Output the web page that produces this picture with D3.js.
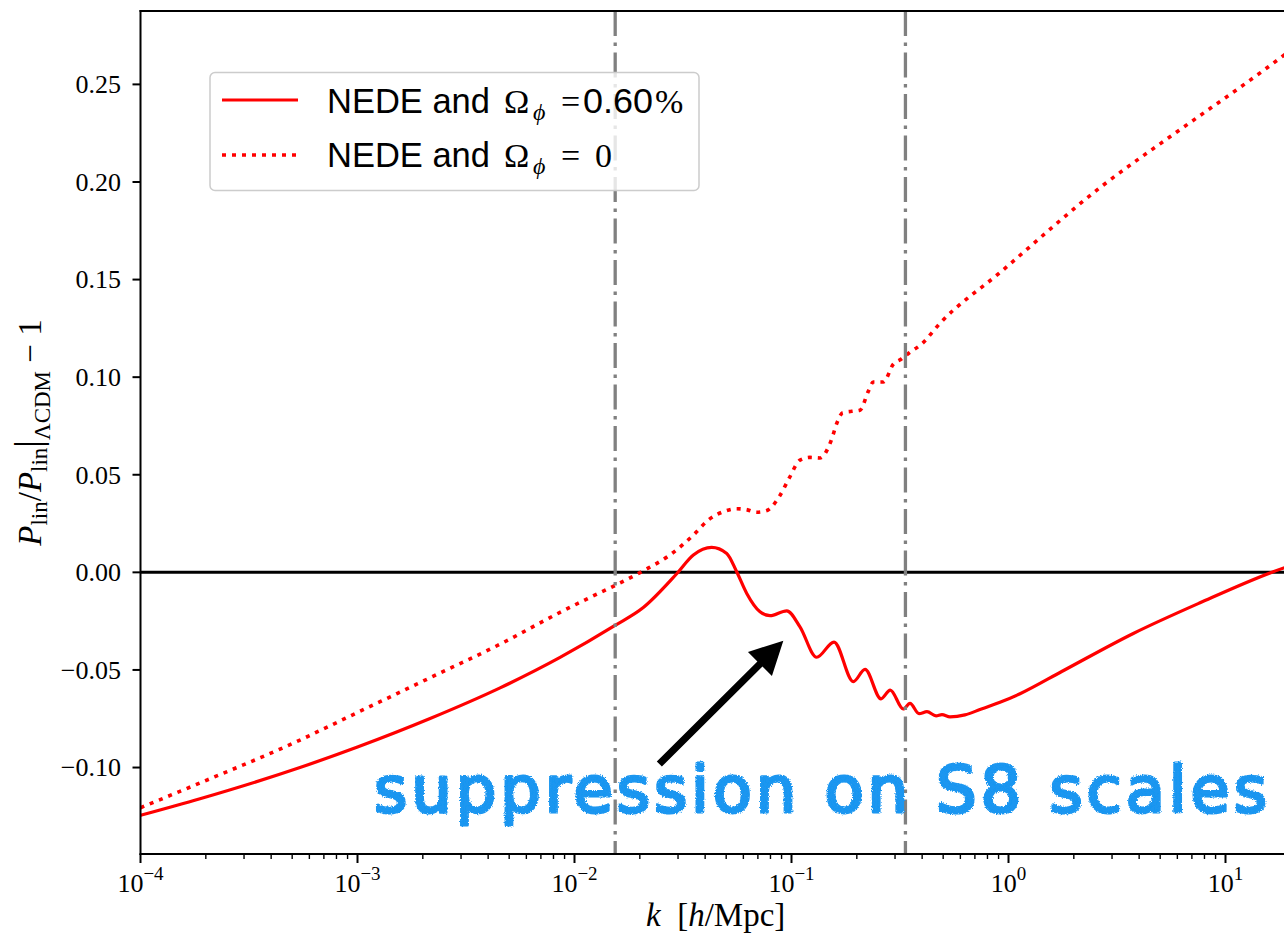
<!DOCTYPE html>
<html><head><meta charset="utf-8">
<script src="https://cdn.jsdelivr.net/npm/d3@7"></script>
<style>html,body{margin:0;padding:0;background:#fff;overflow:hidden}</style>
</head><body><svg id="c" width="1284" height="934"></svg>
<script>
// ---------- data ----------
const kSolid = [1e-4, 1.88e-4, 5.43e-4, 1.0e-3, 2.16e-3, 4.54e-3, 8.58e-3, 0.01537, 0.02075, 0.02958, 0.0353, 0.04287, 0.0503, 0.0559, 0.0622, 0.0716, 0.0796, 0.0951, 0.1094, 0.1306, 0.157, 0.1927, 0.2182, 0.2585, 0.2852, 0.3274, 0.3516, 0.387, 0.4211, 0.4634, 0.4937, 0.5375, 0.630, 0.739, 0.9137, 1.13, 1.759, 3.759, 7.63, 16.6, 20];
const pSolid = [-0.1245, -0.1160, -0.1000, -0.0895, -0.0749, -0.0592, -0.0436, -0.0272, -0.0180, -0.0007, 0.0089, 0.0128, 0.0097, 0.0003, -0.0108, -0.0202, -0.0222, -0.0197, -0.0279, -0.0435, -0.0357, -0.0560, -0.0497, -0.0648, -0.0603, -0.0700, -0.0671, -0.0724, -0.0714, -0.0735, -0.0729, -0.0740, -0.0730, -0.0703, -0.0666, -0.0622, -0.0508, -0.0313, -0.0156, 0.0003, 0.0035];
const kDotted = [1e-4, 1.88e-4, 5.04e-4, 1.0e-3, 2.16e-3, 4.54e-3, 8.58e-3, 0.01138, 0.01537, 0.02075, 0.02754, 0.0353, 0.04136, 0.04974, 0.0556, 0.0617, 0.0691, 0.0763, 0.0885, 0.0977, 0.1094, 0.1217, 0.1353, 0.1516, 0.1626, 0.1721, 0.1894, 0.2068, 0.2259, 0.2382, 0.2649, 0.2944, 0.322, 0.349, 0.398, 0.4833, 0.9137, 2.689, 5.96, 14.69, 20];
const pDotted = [-0.1206, -0.1079, -0.0876, -0.0718, -0.0540, -0.0368, -0.0205, -0.0137, -0.0067, 0.0008, 0.0089, 0.0191, 0.0268, 0.0315, 0.0326, 0.0322, 0.0308, 0.0315, 0.0394, 0.0484, 0.0575, 0.0589, 0.0586, 0.0669, 0.0770, 0.0818, 0.0825, 0.0831, 0.0927, 0.0975, 0.0975, 0.1066, 0.1094, 0.1125, 0.1170, 0.1276, 0.1536, 0.1978, 0.2256, 0.2565, 0.2676];
const vlineK = [0.0154, 0.335];
const xTickExp = [-4, -3, -2, -1, 0, 1];
const yTicks = [-0.10, -0.05, 0.00, 0.05, 0.10, 0.15, 0.20, 0.25];
const legendValues = ["0.60", "0"];
const annotationText = "suppression on S8 scales";
const arrowTail = [0.0246, -0.0982];
const arrowTip = [0.0917, -0.035];
const kDomain = [1e-4, 20];
const yDomain = [-0.1443, 0.2876];

// ---------- layout ----------
const svg = d3.select("#c");
const L = 140.5, T = 11, B = 854;
const R = L + 217 * Math.log10(kDomain[1] / kDomain[0]);
const x = d3.scaleLog().domain(kDomain).range([L, R]);
const y = d3.scaleLinear().domain(yDomain).range([B, T]);
const serif = "'Liberation Serif', 'DejaVu Serif', serif";
const sans = "'Liberation Sans', Arial, sans-serif";

const defs = svg.append("defs");
defs.append("clipPath").attr("id", "plot").append("rect")
  .attr("x", L).attr("y", T).attr("width", R - L).attr("height", B - T);
const f = defs.append("filter").attr("id", "rough").attr("x", "-5%").attr("y", "-20%").attr("width", "110%").attr("height", "140%");
f.append("feTurbulence").attr("type", "fractalNoise").attr("baseFrequency", 0.8).attr("numOctaves", 2).attr("seed", 3).attr("result", "n");
f.append("feDisplacementMap").attr("in", "SourceGraphic").attr("in2", "n").attr("scale", 3.5).attr("xChannelSelector", "R").attr("yChannelSelector", "G");

const plot = svg.append("g").attr("clip-path", "url(#plot)");

// zero line
plot.append("line").attr("x1", L).attr("x2", R).attr("y1", y(0)).attr("y2", y(0))
  .attr("stroke", "#000").attr("stroke-width", 3);

const line = d3.line().x(d => x(d[0])).y(d => y(d[1])).curve(d3.curveMonotoneX);
plot.append("path").datum(d3.zip(kDotted, pDotted)).attr("d", line)
  .attr("fill", "none").attr("stroke", "#ff0000").attr("stroke-width", 3.6)
  .attr("stroke-dasharray", "4 6");
plot.append("path").datum(d3.zip(kSolid, pSolid)).attr("d", line)
  .attr("fill", "none").attr("stroke", "#ff0000").attr("stroke-width", 3.2);

// vertical dash-dot lines
plot.selectAll("line.v").data(vlineK).join("line").attr("class", "v")
  .attr("x1", d => x(d)).attr("x2", d => x(d)).attr("y1", T).attr("y2", B)
  .attr("stroke", "#808080").attr("stroke-width", 3.3)
  .attr("stroke-dasharray", "25 6.5 3.5 6.5");

// arrow
(function () {
  const x0 = x(arrowTail[0]), y0 = y(arrowTail[1]);
  const x1 = x(arrowTip[0]), y1 = y(arrowTip[1]);
  const dx = x1 - x0, dy = y1 - y0, len = Math.hypot(dx, dy);
  const ux = dx / len, uy = dy / len, nx = -uy, ny = ux;
  const hl = 33, hw = 17, sw = 3.6;
  const bx = x1 - ux * hl, by = y1 - uy * hl;
  const pts = [
    [x0 + nx * sw, y0 + ny * sw], [bx + nx * sw, by + ny * sw], [bx + nx * hw, by + ny * hw],
    [x1, y1], [bx - nx * hw, by - ny * hw], [bx - nx * sw, by - ny * sw], [x0 - nx * sw, y0 - ny * sw]
  ];
  plot.append("path").attr("d", "M" + pts.map(p => p.join(",")).join("L") + "Z").attr("fill", "#000");
})();

// annotation text
svg.append("text").attr("x", 374).attr("y", 812)
  .attr("textLength", 893).attr("lengthAdjust", "spacing")
  .style("font-family", "'DejaVu Sans', sans-serif").style("font-size", "64px")
  .attr("fill", "#1a96f0").attr("stroke", "#1a96f0").attr("stroke-width", 3)
  .attr("stroke-linejoin", "round")
  .attr("filter", "url(#rough)")
  .text(annotationText);

// spines
const sp = svg.append("g").attr("stroke", "#000").attr("stroke-width", 2).attr("fill", "none");
sp.append("line").attr("x1", L).attr("x2", L).attr("y1", T - 1).attr("y2", B + 1);
sp.append("line").attr("x1", L - 1).attr("x2", R + 1).attr("y1", B).attr("y2", B);
sp.append("line").attr("x1", L - 1).attr("x2", R + 1).attr("y1", T).attr("y2", T);
sp.append("line").attr("x1", R).attr("x2", R).attr("y1", T - 1).attr("y2", B + 1);

// y ticks
const yt = svg.append("g");
yt.selectAll("line").data(yTicks).join("line")
  .attr("x1", L - 8).attr("x2", L).attr("y1", d => y(d)).attr("y2", d => y(d))
  .attr("stroke", "#000").attr("stroke-width", 2);
const fmt = d3.format(".2f");
yt.selectAll("text").data(yTicks).join("text")
  .attr("x", 121).attr("y", d => y(d)).attr("dy", "0.34em").attr("text-anchor", "end")
  .style("font-family", serif).style("font-size", "26px").text(d => fmt(d));

// x ticks
const xt = svg.append("g");
const minor = [];
for (let e = -4; e <= 1; e++) for (let m = 2; m <= 9; m++) { const v = m * Math.pow(10, e); if (v <= kDomain[1]) minor.push(v); }
xt.selectAll("line.mi").data(minor).join("line").attr("class", "mi")
  .attr("x1", d => x(d)).attr("x2", d => x(d)).attr("y1", B).attr("y2", B + 5)
  .attr("stroke", "#000").attr("stroke-width", 1.4);
xt.selectAll("line.ma").data(xTickExp).join("line").attr("class", "ma")
  .attr("x1", d => x(Math.pow(10, d))).attr("x2", d => x(Math.pow(10, d))).attr("y1", B).attr("y2", B + 9)
  .attr("stroke", "#000").attr("stroke-width", 2);
xt.selectAll("text").data(xTickExp).join("text")
  .attr("x", d => x(Math.pow(10, d))).attr("y", 892).attr("text-anchor", "middle")
  .style("font-family", serif).style("font-size", "26px")
  .each(function (d) {
    const t = d3.select(this);
    t.append("tspan").text("10");
    t.append("tspan").attr("dy", -12).style("font-size", "19px").text(d < 0 ? "\u2212" + (-d) : String(d));
  });

// axis labels
const xl = svg.append("text").attr("x", (L + R) / 2).attr("y", 926).attr("text-anchor", "middle")
  .style("font-family", serif).style("font-size", "33px").attr("xml:space", "preserve");
xl.append("tspan").style("font-style", "italic").text("k");
xl.append("tspan").text("\u2002[");
xl.append("tspan").style("font-style", "italic").text("h");
xl.append("tspan").text("/Mpc]");

const yl = svg.append("text").attr("transform", `translate(41,${(T + B) / 2}) rotate(-90)`)
  .attr("text-anchor", "middle").style("font-family", serif).style("font-size", "33px")
  .attr("xml:space", "preserve");
yl.append("tspan").style("font-style", "italic").text("P");
yl.append("tspan").attr("dy", 6).style("font-size", "23px").text("lin");
yl.append("tspan").attr("dy", -6).text("/");
yl.append("tspan").style("font-style", "italic").text("P");
yl.append("tspan").attr("dy", 6).style("font-size", "23px").text("lin");
yl.append("tspan").attr("dy", -6).style("font-size", "38px").text("|");
yl.append("tspan").attr("dy", 9).style("font-size", "23px").text("\u039BCDM");
yl.append("tspan").attr("dy", -9).text(" \u2212 1");

// legend
const lg = svg.append("g");
lg.append("rect").attr("x", 210).attr("y", 72.5).attr("width", 489).attr("height", 118).attr("rx", 5)
  .attr("fill", "rgba(255,255,255,0.8)").attr("stroke", "#cccccc").attr("stroke-width", 1.5);
lg.append("line").attr("x1", 222).attr("x2", 298).attr("y1", 100).attr("y2", 100)
  .attr("stroke", "#ff0000").attr("stroke-width", 3.2);
lg.append("line").attr("x1", 222).attr("x2", 298).attr("y1", 155).attr("y2", 155)
  .attr("stroke", "#ff0000").attr("stroke-width", 3.6).attr("stroke-dasharray", "4 6");
const rows = [112.7, 167.3];
rows.forEach((by, i) => {
  const g = lg.append("g");
  g.append("text").attr("x", 327).attr("y", by).style("font-family", sans).style("font-size", "34.5px").text("NEDE and");
  g.append("text").attr("x", 504).attr("y", by).style("font-family", serif).style("font-size", "34px").text("\u03A9");
  g.append("text").attr("x", 533).attr("y", by + 7).style("font-family", serif).style("font-style", "italic").style("font-size", "24px").text("\u03D5");
  g.append("text").attr("x", 561).attr("y", by).style("font-family", serif).style("font-size", "34px").text("=");
  if (i === 0) {
    g.append("text").attr("x", 583).attr("y", by).attr("textLength", 70).attr("lengthAdjust", "spacingAndGlyphs")
      .style("font-family", sans).style("font-size", "34.5px").text(legendValues[0]);
    g.append("text").attr("x", 655).attr("y", by).style("font-family", serif).style("font-size", "34px").text("%");
  } else {
    g.append("text").attr("x", 595).attr("y", by).style("font-family", serif).style("font-size", "34px").text(legendValues[1]);
  }
});
</script></body></html>
